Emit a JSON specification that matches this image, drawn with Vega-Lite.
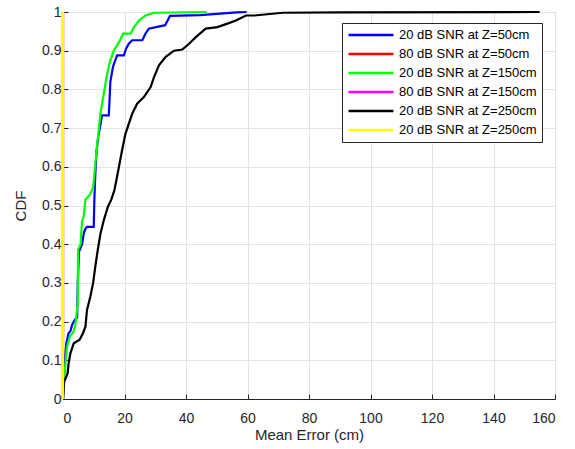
{
  "$schema": "https://vega.github.io/schema/vega-lite/v6.json",
  "autosize": {"type": "none"},
  "padding": {"left": 63, "top": 12, "right": 20, "bottom": 50},
  "width": 492,
  "height": 387,
  "background": "white",
  "config": {
    "font": "Liberation Sans",
    "view": {"stroke": "#262626", "strokeWidth": 1},
    "axis": {
      "domainColor": "#262626",
      "tickColor": "#262626",
      "gridColor": "#e3e3e3",
      "labelColor": "#262626",
      "titleColor": "#262626",
      "labelFontSize": 14,
      "titleFontSize": 15,
      "titleFontWeight": "normal",
      "tickSize": -5
    }
  },
  "data": {
    "values": [
      {"s": "20 dB SNR at Z=50cm", "x": 0, "y": 0},
      {"s": "20 dB SNR at Z=50cm", "x": 0.3, "y": 0.05},
      {"s": "20 dB SNR at Z=50cm", "x": 0.5, "y": 0.07},
      {"s": "20 dB SNR at Z=50cm", "x": 0.8, "y": 0.12},
      {"s": "20 dB SNR at Z=50cm", "x": 1.1, "y": 0.144},
      {"s": "20 dB SNR at Z=50cm", "x": 1.8, "y": 0.17},
      {"s": "20 dB SNR at Z=50cm", "x": 2.4, "y": 0.175},
      {"s": "20 dB SNR at Z=50cm", "x": 2.9, "y": 0.19},
      {"s": "20 dB SNR at Z=50cm", "x": 3.5, "y": 0.2},
      {"s": "20 dB SNR at Z=50cm", "x": 4.3, "y": 0.21},
      {"s": "20 dB SNR at Z=50cm", "x": 4.6, "y": 0.21},
      {"s": "20 dB SNR at Z=50cm", "x": 4.8, "y": 0.3},
      {"s": "20 dB SNR at Z=50cm", "x": 5.2, "y": 0.38},
      {"s": "20 dB SNR at Z=50cm", "x": 6.2, "y": 0.4},
      {"s": "20 dB SNR at Z=50cm", "x": 6.8, "y": 0.43},
      {"s": "20 dB SNR at Z=50cm", "x": 7.3, "y": 0.44},
      {"s": "20 dB SNR at Z=50cm", "x": 7.8, "y": 0.445},
      {"s": "20 dB SNR at Z=50cm", "x": 10, "y": 0.445},
      {"s": "20 dB SNR at Z=50cm", "x": 10.2, "y": 0.515},
      {"s": "20 dB SNR at Z=50cm", "x": 10.5, "y": 0.58},
      {"s": "20 dB SNR at Z=50cm", "x": 10.9, "y": 0.64},
      {"s": "20 dB SNR at Z=50cm", "x": 11.5, "y": 0.68},
      {"s": "20 dB SNR at Z=50cm", "x": 12.2, "y": 0.71},
      {"s": "20 dB SNR at Z=50cm", "x": 12.7, "y": 0.733},
      {"s": "20 dB SNR at Z=50cm", "x": 14.9, "y": 0.733},
      {"s": "20 dB SNR at Z=50cm", "x": 15.4, "y": 0.82},
      {"s": "20 dB SNR at Z=50cm", "x": 16.3, "y": 0.86},
      {"s": "20 dB SNR at Z=50cm", "x": 17.6, "y": 0.888},
      {"s": "20 dB SNR at Z=50cm", "x": 19.8, "y": 0.888},
      {"s": "20 dB SNR at Z=50cm", "x": 20.5, "y": 0.905},
      {"s": "20 dB SNR at Z=50cm", "x": 21.4, "y": 0.918},
      {"s": "20 dB SNR at Z=50cm", "x": 22.5, "y": 0.927},
      {"s": "20 dB SNR at Z=50cm", "x": 25.8, "y": 0.927},
      {"s": "20 dB SNR at Z=50cm", "x": 26.8, "y": 0.944},
      {"s": "20 dB SNR at Z=50cm", "x": 27.9, "y": 0.957},
      {"s": "20 dB SNR at Z=50cm", "x": 33.2, "y": 0.966},
      {"s": "20 dB SNR at Z=50cm", "x": 34.8, "y": 0.99},
      {"s": "20 dB SNR at Z=50cm", "x": 44.6, "y": 0.992},
      {"s": "20 dB SNR at Z=50cm", "x": 50, "y": 0.995},
      {"s": "20 dB SNR at Z=50cm", "x": 56.5, "y": 0.999},
      {"s": "20 dB SNR at Z=50cm", "x": 59.7, "y": 1},
      {"s": "80 dB SNR at Z=50cm", "x": 0, "y": 0},
      {"s": "80 dB SNR at Z=50cm", "x": 0, "y": 1},
      {"s": "20 dB SNR at Z=150cm", "x": 0, "y": 0},
      {"s": "20 dB SNR at Z=150cm", "x": 0.2, "y": 0.05},
      {"s": "20 dB SNR at Z=150cm", "x": 0.8, "y": 0.09},
      {"s": "20 dB SNR at Z=150cm", "x": 1.3, "y": 0.135},
      {"s": "20 dB SNR at Z=150cm", "x": 2.4, "y": 0.165},
      {"s": "20 dB SNR at Z=150cm", "x": 3.2, "y": 0.17},
      {"s": "20 dB SNR at Z=150cm", "x": 4.0, "y": 0.19},
      {"s": "20 dB SNR at Z=150cm", "x": 4.3, "y": 0.21},
      {"s": "20 dB SNR at Z=150cm", "x": 4.8, "y": 0.25},
      {"s": "20 dB SNR at Z=150cm", "x": 4.9, "y": 0.385},
      {"s": "20 dB SNR at Z=150cm", "x": 5.7, "y": 0.4},
      {"s": "20 dB SNR at Z=150cm", "x": 6.2, "y": 0.46},
      {"s": "20 dB SNR at Z=150cm", "x": 6.7, "y": 0.47},
      {"s": "20 dB SNR at Z=150cm", "x": 7.3, "y": 0.515},
      {"s": "20 dB SNR at Z=150cm", "x": 8.9, "y": 0.53},
      {"s": "20 dB SNR at Z=150cm", "x": 9.8, "y": 0.547},
      {"s": "20 dB SNR at Z=150cm", "x": 10.9, "y": 0.64},
      {"s": "20 dB SNR at Z=150cm", "x": 12.2, "y": 0.74},
      {"s": "20 dB SNR at Z=150cm", "x": 13.3, "y": 0.79},
      {"s": "20 dB SNR at Z=150cm", "x": 14.1, "y": 0.83},
      {"s": "20 dB SNR at Z=150cm", "x": 15.2, "y": 0.87},
      {"s": "20 dB SNR at Z=150cm", "x": 16.5, "y": 0.9},
      {"s": "20 dB SNR at Z=150cm", "x": 18.2, "y": 0.922},
      {"s": "20 dB SNR at Z=150cm", "x": 19.6, "y": 0.944},
      {"s": "20 dB SNR at Z=150cm", "x": 22, "y": 0.944},
      {"s": "20 dB SNR at Z=150cm", "x": 23, "y": 0.96},
      {"s": "20 dB SNR at Z=150cm", "x": 24.7, "y": 0.978},
      {"s": "20 dB SNR at Z=150cm", "x": 26.8, "y": 0.991},
      {"s": "20 dB SNR at Z=150cm", "x": 29.6, "y": 0.998},
      {"s": "20 dB SNR at Z=150cm", "x": 46.7, "y": 1},
      {"s": "80 dB SNR at Z=150cm", "x": 0, "y": 0},
      {"s": "80 dB SNR at Z=150cm", "x": 0, "y": 1},
      {"s": "20 dB SNR at Z=250cm", "x": 0, "y": 0},
      {"s": "20 dB SNR at Z=250cm", "x": 0.4, "y": 0.045},
      {"s": "20 dB SNR at Z=250cm", "x": 1.5, "y": 0.066},
      {"s": "20 dB SNR at Z=250cm", "x": 1.8, "y": 0.09},
      {"s": "20 dB SNR at Z=250cm", "x": 2.4, "y": 0.118},
      {"s": "20 dB SNR at Z=250cm", "x": 3.5, "y": 0.144},
      {"s": "20 dB SNR at Z=250cm", "x": 5.4, "y": 0.153},
      {"s": "20 dB SNR at Z=250cm", "x": 6.5, "y": 0.17},
      {"s": "20 dB SNR at Z=250cm", "x": 7.3, "y": 0.187},
      {"s": "20 dB SNR at Z=250cm", "x": 7.8, "y": 0.23},
      {"s": "20 dB SNR at Z=250cm", "x": 8.9, "y": 0.265},
      {"s": "20 dB SNR at Z=250cm", "x": 9.8, "y": 0.3},
      {"s": "20 dB SNR at Z=250cm", "x": 10.5, "y": 0.342},
      {"s": "20 dB SNR at Z=250cm", "x": 11.3, "y": 0.385},
      {"s": "20 dB SNR at Z=250cm", "x": 12.2, "y": 0.428},
      {"s": "20 dB SNR at Z=250cm", "x": 13.3, "y": 0.463},
      {"s": "20 dB SNR at Z=250cm", "x": 14.6, "y": 0.497},
      {"s": "20 dB SNR at Z=250cm", "x": 15.7, "y": 0.515},
      {"s": "20 dB SNR at Z=250cm", "x": 16.7, "y": 0.539},
      {"s": "20 dB SNR at Z=250cm", "x": 18.2, "y": 0.6},
      {"s": "20 dB SNR at Z=250cm", "x": 19.2, "y": 0.642},
      {"s": "20 dB SNR at Z=250cm", "x": 20.3, "y": 0.685},
      {"s": "20 dB SNR at Z=250cm", "x": 22.5, "y": 0.737},
      {"s": "20 dB SNR at Z=250cm", "x": 24.1, "y": 0.763},
      {"s": "20 dB SNR at Z=250cm", "x": 26.3, "y": 0.78},
      {"s": "20 dB SNR at Z=250cm", "x": 28.5, "y": 0.806},
      {"s": "20 dB SNR at Z=250cm", "x": 29.6, "y": 0.832},
      {"s": "20 dB SNR at Z=250cm", "x": 31.2, "y": 0.862},
      {"s": "20 dB SNR at Z=250cm", "x": 33.4, "y": 0.884},
      {"s": "20 dB SNR at Z=250cm", "x": 36.1, "y": 0.9},
      {"s": "20 dB SNR at Z=250cm", "x": 38.8, "y": 0.903},
      {"s": "20 dB SNR at Z=250cm", "x": 41, "y": 0.918},
      {"s": "20 dB SNR at Z=250cm", "x": 43.2, "y": 0.935},
      {"s": "20 dB SNR at Z=250cm", "x": 46.4, "y": 0.957},
      {"s": "20 dB SNR at Z=250cm", "x": 50.2, "y": 0.961},
      {"s": "20 dB SNR at Z=250cm", "x": 53.5, "y": 0.97},
      {"s": "20 dB SNR at Z=250cm", "x": 56.2, "y": 0.978},
      {"s": "20 dB SNR at Z=250cm", "x": 59.5, "y": 0.991},
      {"s": "20 dB SNR at Z=250cm", "x": 62.2, "y": 0.991},
      {"s": "20 dB SNR at Z=250cm", "x": 71.5, "y": 0.998},
      {"s": "20 dB SNR at Z=250cm", "x": 90, "y": 0.999},
      {"s": "20 dB SNR at Z=250cm", "x": 155, "y": 1},
      {"s": "20 dB SNR at Z=250cm ", "x": 0, "y": 0},
      {"s": "20 dB SNR at Z=250cm ", "x": 0, "y": 1}
    ]
  },
  "mark": {"type": "line", "strokeWidth": 2.2, "clip": false},
  "encoding": {
    "x": {
      "field": "x",
      "type": "quantitative",
      "scale": {"domain": [0, 160], "nice": false},
      "axis": {"values": [0, 20, 40, 60, 80, 100, 120, 140, 160], "title": "Mean Error (cm)", "labelPadding": 17, "titlePadding": 2}
    },
    "y": {
      "field": "y",
      "type": "quantitative",
      "scale": {"domain": [0, 1], "nice": false},
      "axis": {"values": [0, 0.1, 0.2, 0.3, 0.4, 0.5, 0.6, 0.7, 0.8, 0.9, 1], "format": "~g", "title": "CDF", "labelPadding": 7, "titlePadding": 13}
    },
    "color": {
      "field": "s",
      "type": "nominal",
      "scale": {
        "domain": ["20 dB SNR at Z=50cm", "80 dB SNR at Z=50cm", "20 dB SNR at Z=150cm", "80 dB SNR at Z=150cm", "20 dB SNR at Z=250cm", "20 dB SNR at Z=250cm "],
        "range": ["#0000ff", "#ff0000", "#00ff00", "#ff00ff", "#000000", "#ffff00"]
      },
      "legend": {
        "title": null,
        "orient": "none",
        "legendX": 279,
        "legendY": 11,
        "symbolType": "M-4,0H4",
        "symbolSize": 126.5,
        "symbolOffset": 17,
        "symbolStrokeWidth": 2.5,
        "labelFontSize": 13,
        "labelColor": "#000000",
        "labelOffset": 21,
        "padding": 5,
        "strokeColor": "#262626",
        "fillColor": "white",
        "rowPadding": 5
      }
    },
    "order": {"value": null}
  }
}
